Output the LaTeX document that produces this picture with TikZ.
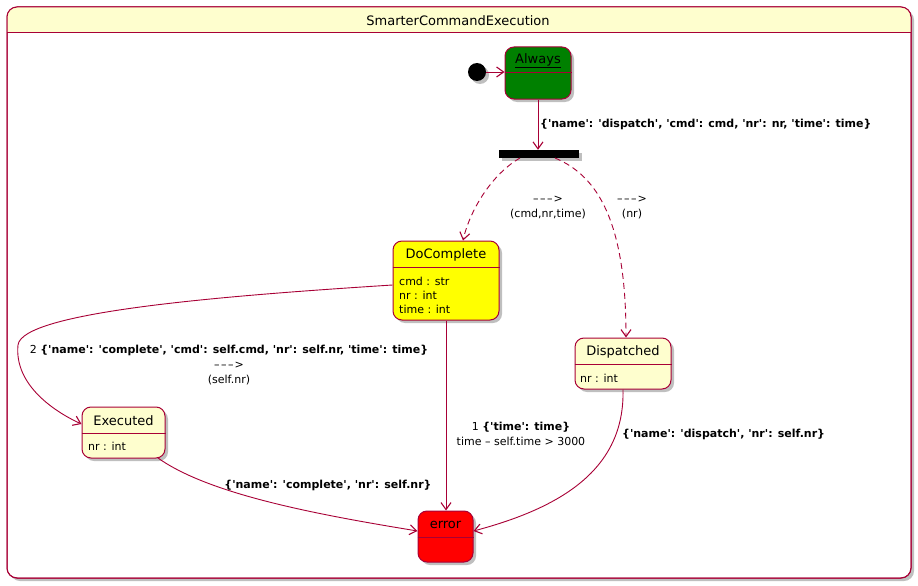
\documentclass[tikz,border=0pt]{standalone}
\usepackage{fontspec}
\setmainfont{DejaVu Sans}[Ligatures=TeXOff]
\usetikzlibrary{arrows.meta,shadows}
\definecolor{pborder}{HTML}{A80036}
\definecolor{pfill}{HTML}{FEFECE}
\definecolor{pgreen}{HTML}{008000}
\definecolor{pyellow}{HTML}{FFFF00}
\definecolor{pred}{HTML}{FF0000}
\tikzset{
  shad/.style={drop shadow={shadow xshift=3pt,shadow yshift=-3pt,opacity=0.25,fill=black}},
  statebox/.style={draw=pborder,line width=1pt,rounded corners=9pt,fill=pfill,inner sep=0pt,shad},
  hdr/.style={draw=pborder,line width=1pt},
  stitle/.style={font=\fontsize{13}{15}\selectfont,inner sep=0pt},
  attr/.style={font=\fontsize{11}{14}\selectfont,inner sep=0pt,anchor=west},
  trans/.style={draw=pborder,line width=0.9pt,-{Straight Barb[length=7pt,width=10pt,line width=1.1pt]}},
  dtrans/.style={trans,dash pattern=on 6pt off 4pt},
  elab/.style={font=\fontsize{11}{15}\selectfont,inner sep=0pt,align=center},
}
\newcommand{\darr}{\char"2013\kern1.5pt\char"2013\kern1.5pt\char"2013\kern1pt>}
\begin{document}
\begin{tikzpicture}[x=1pt,y=-1pt]
\useasboundingbox (0,0) rectangle (918,586);
% outer composite state
\node[draw=pborder,line width=1pt,rounded corners=10pt,fill=white,minimum width=904pt,minimum height=571pt,inner sep=0pt,shad] (outer) at (459,292.5) {};
\begin{scope}
  \clip[rounded corners=10pt] (7,7) rectangle (911,578);
  \fill[pfill] (7,7) rectangle (911,33);
\end{scope}
\draw[pborder,line width=1pt,rounded corners=10pt] (7,7) rectangle (911,578);
\draw[hdr] (7,33) -- (911,33);
\node[stitle] (outerT) at (458,20.5) {SmarterCommandExecution};

% initial
\node[circle,fill=black,minimum size=18pt,inner sep=0pt,shad] (init) at (477,72) {};
% Always
\node[statebox,fill=pgreen,minimum width=66pt,minimum height=52pt] (always) at (538,73) {};
\draw[hdr] (always.west |- 0,73) -- (always.east |- 0,73);
\node[stitle] (alwaysT) at (538,61) {\underline{Always}};
% bar
\node[fill=black,minimum width=80pt,minimum height=8pt,inner sep=0pt,shad] (bar) at (539,154) {};
% DoComplete
\node[statebox,fill=pyellow,minimum width=106pt,minimum height=79pt] (doc) at (446,280.5) {};
\draw[hdr] (doc.west |- 0,267) -- (doc.east |- 0,267);
\node[stitle] (docT) at (446,255) {DoComplete};
\node[attr] (docA) at (399,281) {cmd : str};
\node[attr] (docB) at (399,295) {nr : int};
\node[attr] (docC) at (399,309) {time : int};
% Dispatched
\node[statebox,minimum width=96pt,minimum height=51pt] (disp) at (623,363.5) {};
\draw[hdr] (disp.west |- 0,364) -- (disp.east |- 0,364);
\node[stitle] (dispT) at (623,352) {Dispatched};
\node[attr] (dispA) at (580,378) {nr : int};
% Executed
\node[statebox,minimum width=83pt,minimum height=51pt] (exe) at (123.5,432.5) {};
\draw[hdr] (exe.west |- 0,433) -- (exe.east |- 0,433);
\node[stitle] (exeT) at (123.5,421) {Executed};
\node[attr] (exeA) at (88,446) {nr : int};
% error
\node[statebox,fill=pred,minimum width=55pt,minimum height=51pt] (err) at (445.5,536.5) {};
\draw[hdr] (err.west |- 0,537) -- (err.east |- 0,537);
\node[stitle] (errT) at (445.5,525) {error};

% transitions
\draw[trans] (init) -- (always.west |- init);
\draw[trans] (always.south) -- (always.south |- bar.north);
\node[elab,anchor=west] (l1) at (540,124) {\textbf{\{'name': 'dispatch', 'cmd': cmd, 'nr': nr, 'time': time\}}};

\coordinate (b1) at (520,158);
\coordinate (b2) at (555,158);
\draw[dtrans] (b1) .. controls (492,174) and (470,210) .. (doc.north -| 463,0);
\draw[dtrans] (b2) .. controls (598,176) and (626,222) .. (disp.north -| 626,0);
\node[elab] (l2) at (548,208) {\darr\\(cmd,nr,time)};
\node[elab] (l3) at (632,208) {\darr\\(nr)};

\coordinate (c1) at (18,345);
\draw[trans] (doc.west |- 0,285) .. controls (220,296) and (22,312) .. (c1) .. controls (14,385) and (55,412) .. (exe.west |- 0,424);
\node[elab] (l4) at (229,365) {2 \textbf{\{'name': 'complete', 'cmd': self.cmd, 'nr': self.nr, 'time': time\}}\\\darr\\(self.nr)};

\draw[trans] (doc.south) -- (err.north -| doc.south);
\node[elab] (l5) at (521,434) {1 \textbf{\{'time': time\}}\\time \char"2013{} self.time > 3000};

\draw[trans] (158,458) .. controls (210,495) and (320,515) .. (err.west |- 0,531);
\node[elab] (l6) at (328,485) {\textbf{\{'name': 'complete', 'nr': self.nr\}}};

\draw[trans] (disp.south) .. controls (625,470) and (560,508) .. (err.east |- 0,531);
\node[elab,anchor=west] (l7) at (622,434) {\textbf{\{'name': 'dispatch', 'nr': self.nr\}}};
\end{tikzpicture}
\end{document}
